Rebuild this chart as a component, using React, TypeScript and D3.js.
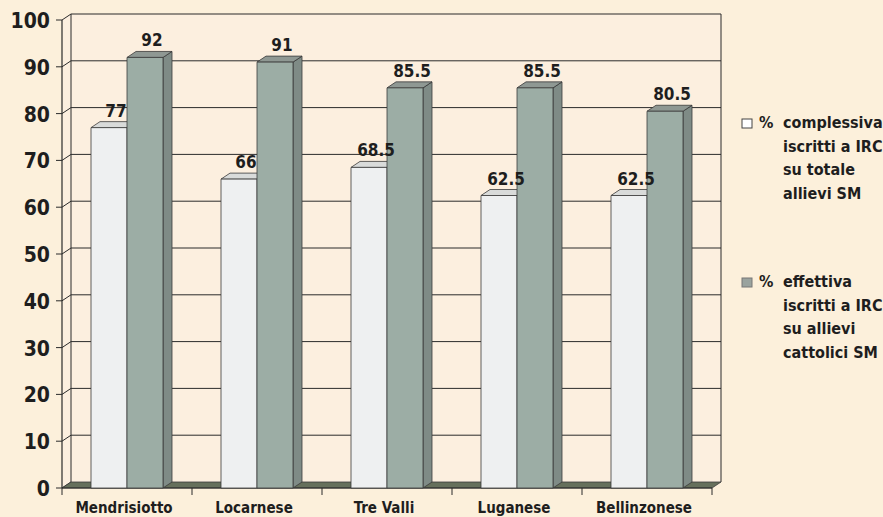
import React from "react";
import * as d3 from "d3";

const categories = ["Mendrisiotto", "Locarnese", "Tre Valli", "Luganese", "Bellinzonese"];
const seriesNames = ["complessiva", "effettiva"];
const complessiva = [77, 66, 68.5, 62.5, 62.5];
const effettiva = [92, 91, 85.5, 85.5, 80.5];
const yTicks = [0, 10, 20, 30, 40, 50, 60, 70, 80, 90, 100];
const legend1 = ["complessiva", "iscritti a IRC", "su totale", "allievi SM"];
const legend2 = ["effettiva", "iscritti a IRC", "su allievi", "cattolici SM"];

const W = 883;
const H = 517;
const DX = 9;
const DY = -6;
const FONT = "'DejaVu Sans Condensed', 'DejaVu Sans', sans-serif";

const colors = {
  bg: "#fcf0db",
  wall: "#fcefdf",
  grid: "#2b2b2b",
  floor: "#66705c",
  light: { front: "#eef0f1", top: "#d9dbda", side: "#c9cdcb" },
  dark: { front: "#9cada5", top: "#8f9893", side: "#7f8b86" },
};

export default function App() {
  const y = d3.scaleLinear().domain([0, 100]).range([488, 20]);
  const x0 = d3.scaleBand<string>().domain(categories).range([62, 712]);
  const groupW = 72;
  const x1 = d3.scaleBand<string>().domain(seriesNames).range([0, groupW]);
  const bw = x1.bandwidth();
  const left = 62;
  const right = 712;
  const base = y(0);
  const top = y(100);

  const data = [complessiva, effettiva];
  const pal = [colors.light, colors.dark];

  const bars: JSX.Element[] = [];
  const labels: JSX.Element[] = [];
  categories.forEach((c, i) => {
    const gx = (x0(c) as number) + (x0.bandwidth() - groupW) / 2;
    seriesNames.forEach((s, j) => {
      const v = data[j][i];
      const x = gx + (x1(s) as number);
      const yv = y(v);
      const p = pal[j];
      bars.push(
        <g key={`b-${i}-${j}`} stroke="#3a3a3a" strokeWidth={0.8} strokeLinejoin="round">
          <polygon
            points={`${x + bw},${yv} ${x + bw + DX},${yv + DY} ${x + bw + DX},${base + DY} ${x + bw},${base}`}
            fill={p.side}
          />
          <polygon
            points={`${x},${yv} ${x + DX},${yv + DY} ${x + bw + DX},${yv + DY} ${x + bw},${yv}`}
            fill={p.top}
          />
          <rect x={x} y={yv} width={bw} height={base - yv} fill={p.front} />
        </g>
      );
      labels.push(
        <text
          key={`l-${i}-${j}`}
          x={x + bw / 2 + 7}
          y={yv - 11}
          textAnchor="middle"
          fontSize={17}
          fontWeight="bold"
          fill="#1e1e1e"
        >
          {String(v)}
        </text>
      );
    });
  });

  return (
    <svg
      width={W}
      height={H}
      style={{ position: "fixed", left: 0, top: 0, fontFamily: FONT }}
    >
      <rect x={0} y={0} width={W} height={H} fill={colors.bg} />
      {/* back wall */}
      <rect x={left + DX} y={top + DY} width={right - left} height={base - top} fill={colors.wall} />
      {/* left wall */}
      <polygon
        points={`${left},${base} ${left},${top} ${left + DX},${top + DY} ${left + DX},${base + DY}`}
        fill={colors.wall}
      />
      {/* gridlines */}
      {yTicks.map((t) => (
        <g key={`g-${t}`} stroke={colors.grid} strokeWidth={1} fill="none">
          {t > 0 && (
            <line x1={left + DX} x2={right + DX} y1={y(t) + DY} y2={y(t) + DY} />
          )}
          <line x1={left} x2={left + DX} y1={y(t)} y2={y(t) + DY} />
          <line x1={left - 6} x2={left} y1={y(t)} y2={y(t)} />
        </g>
      ))}
      <line x1={left + DX} x2={left + DX} y1={top + DY} y2={base + DY} stroke={colors.grid} />
      <line x1={right + DX} x2={right + DX} y1={top + DY} y2={base + DY} stroke={colors.grid} />
      {/* floor */}
      <polygon
        points={`${left},${base} ${right},${base} ${right + DX},${base + DY} ${left + DX},${base + DY}`}
        fill={colors.floor}
        stroke="#3a3a3a"
        strokeWidth={0.8}
      />
      {/* axes */}
      <line x1={left} x2={left} y1={top} y2={base} stroke={colors.grid} strokeWidth={1.2} />
      <line x1={left} x2={right} y1={base} y2={base} stroke={colors.grid} strokeWidth={1.2} />
      {[...categories.map((c) => x0(c) as number), right].map((xv, k) => (
        <line key={`ct-${k}`} x1={xv} x2={xv} y1={base} y2={base + 7} stroke={colors.grid} />
      ))}
      {bars}
      {labels}
      {/* y tick labels */}
      {yTicks.map((t) => (
        <text
          key={`yt-${t}`}
          x={50}
          y={y(t) + 8}
          textAnchor="end"
          fontSize={21}
          fontWeight="bold"
          fill="#1e1e1e"
        >
          {t}
        </text>
      ))}
      {/* category labels */}
      {categories.map((c) => (
        <text
          key={`c-${c}`}
          x={(x0(c) as number) + x0.bandwidth() / 2 - 3}
          y={513}
          textAnchor="middle"
          fontSize={15}
          fontWeight="bold"
          fill="#1e1e1e"
        >
          {c}
        </text>
      ))}
      {/* legend */}
      <rect x={742} y={119} width={10} height={9} fill="#ffffff" stroke="#444" strokeWidth={1} />
      <text x={759} y={128} fontSize={16} fontWeight="bold" fill="#1e1e1e">%</text>
      {legend1.map((l, k) => (
        <text key={`l1-${k}`} x={783} y={128 + k * 23.5} fontSize={16} fontWeight="bold" fill="#1e1e1e">
          {l}
        </text>
      ))}
      <rect x={742} y={278} width={10} height={9} fill="#9aa39e" stroke="#777" strokeWidth={1} />
      <text x={759} y={287} fontSize={16} fontWeight="bold" fill="#1e1e1e">%</text>
      {legend2.map((l, k) => (
        <text key={`l2-${k}`} x={783} y={287 + k * 23.5} fontSize={16} fontWeight="bold" fill="#1e1e1e">
          {l}
        </text>
      ))}
    </svg>
  );
}
